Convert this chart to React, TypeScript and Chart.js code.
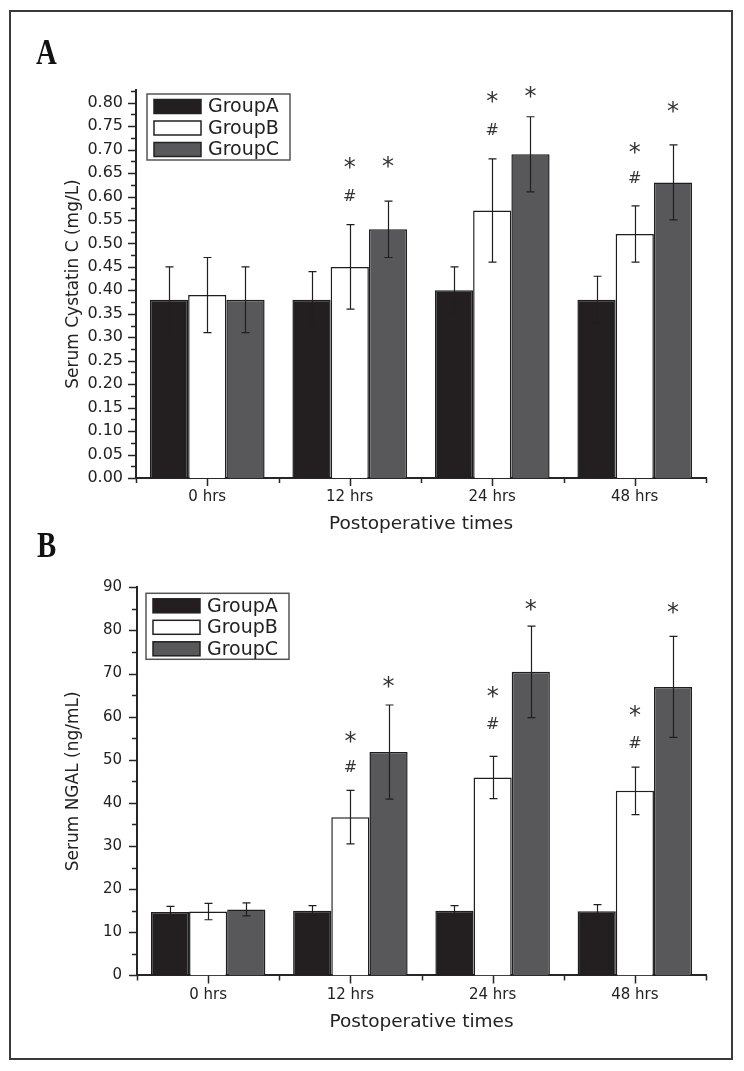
import React, { useEffect, useRef } from "react";
import { Chart, registerables } from "chart.js";

Chart.register(...registerables);

const FONT = "'DejaVu Sans', 'Liberation Sans', Arial, sans-serif";

const CATEGORIES = ["0 hrs", "12 hrs", "24 hrs", "48 hrs"];
const SERIES = ["GroupA", "GroupB", "GroupC"];
const FILLS = ["#231f20", "#ffffff", "#58585a"];
const X_TITLE = "Postoperative times";

// Panel A: Serum Cystatin C (mg/L)
const A_GROUP_A = [0.38, 0.38, 0.4, 0.38];
const A_GROUP_B = [0.39, 0.45, 0.57, 0.52];
const A_GROUP_C = [0.38, 0.53, 0.69, 0.63];
const A_ERR_A = [0.07, 0.06, 0.05, 0.05];
const A_ERR_B = [0.08, 0.09, 0.11, 0.06];
const A_ERR_C = [0.07, 0.06, 0.08, 0.08];
const A_STAR_B = [null, 0.672, 0.813, 0.703];
const A_HASH_B = [null, 0.603, 0.744, 0.642];
const A_STAR_C = [null, 0.673, 0.823, 0.791];
const A_TICKS = [0, 0.05, 0.1, 0.15, 0.2, 0.25, 0.3, 0.35, 0.4, 0.45, 0.5, 0.55, 0.6, 0.65, 0.7, 0.75, 0.8];
const A_MAX = 0.827;
const A_Y_TITLE = "Serum Cystatin C (mg/L)";

// Panel B: Serum NGAL (ng/mL)
const B_GROUP_A = [14.7, 15.0, 15.0, 14.9];
const B_GROUP_B = [14.8, 36.7, 45.9, 42.8];
const B_GROUP_C = [15.3, 51.8, 70.4, 66.9];
const B_ERR_A = [1.3, 1.2, 1.2, 1.5];
const B_ERR_B = [1.9, 6.2, 4.9, 5.5];
const B_ERR_C = [1.5, 10.9, 10.6, 11.7];
const B_STAR_B = [null, 55.2, 65.7, 61.3];
const B_HASH_B = [null, 48.6, 58.5, 54.2];
const B_STAR_C = [null, 68.0, 85.9, 85.1];
const B_TICKS = [0, 10, 20, 30, 40, 50, 60, 70, 80, 90];
const B_MAX = 90;
const B_Y_TITLE = "Serum NGAL (ng/mL)";

type Mark = { ds: number; sym: string; ys: (number | null)[] };

type Panel = {
  values: number[][];
  errors: number[][];
  marks: Mark[];
  ticks: number[];
  max: number;
  decimals: number;
  yTitle: string;
  yFont: number;
  yLabelPad: number;
  width: number;
  height: number;
  padTop: number;
  yWidth: number;
  xHeight: number;
  xLabelPad: number;
  xTitlePadBottom: number;
  legendDx: number;
  legendDy: number;
};

const INK = "#262626";

function extrasPlugin(p: Panel) {
  return {
    id: "panelExtras",
    afterDatasetsDraw(chart: any) {
      const ctx = chart.ctx as CanvasRenderingContext2D;
      const ys = chart.scales.y;
      ctx.save();
      // error bars
      ctx.strokeStyle = "#211e1f";
      ctx.lineWidth = 1.2;
      chart.data.datasets.forEach((_ds: any, d: number) => {
        const meta = chart.getDatasetMeta(d);
        meta.data.forEach((bar: any, i: number) => {
          const v = p.values[d][i];
          const e = p.errors[d][i];
          const x = Math.round(bar.x) + 0.5;
          const yt = ys.getPixelForValue(v + e);
          const yb = ys.getPixelForValue(v - e);
          ctx.beginPath();
          ctx.moveTo(x, yt);
          ctx.lineTo(x, yb);
          ctx.moveTo(x - 4, yt);
          ctx.lineTo(x + 4, yt);
          ctx.moveTo(x - 4, yb);
          ctx.lineTo(x + 4, yb);
          ctx.stroke();
        });
      });
      // significance marks
      ctx.fillStyle = "#333";
      ctx.textAlign = "center";
      ctx.textBaseline = "alphabetic";
      p.marks.forEach((m) => {
        const meta = chart.getDatasetMeta(m.ds);
        ctx.font = m.sym === "*" ? `24px ${FONT}` : `16px ${FONT}`;
        const tm = ctx.measureText(m.sym);
        m.ys.forEach((yv, i) => {
          if (yv === null) return;
          const x = meta.data[i].x;
          const y = ys.getPixelForValue(yv);
          ctx.fillText(m.sym, x, y + (tm.actualBoundingBoxAscent - tm.actualBoundingBoxDescent) / 2);
        });
      });
      ctx.restore();
    },
    afterDraw(chart: any) {
      const ctx = chart.ctx as CanvasRenderingContext2D;
      const ys = chart.scales.y;
      const xs = chart.scales.x;
      const area = chart.chartArea;
      ctx.save();
      ctx.strokeStyle = INK;
      ctx.lineWidth = 1.5;
      // y ticks
      const tv: number[] = ys.ticks.map((t: any) => t.value);
      const step = tv[1] - tv[0];
      ctx.beginPath();
      tv.forEach((v) => {
        const y = Math.round(ys.getPixelForValue(v)) + 0.5;
        ctx.moveTo(area.left, y);
        ctx.lineTo(area.left - 8, y);
        const mv = v + step / 2;
        if (mv <= p.max + 1e-9) {
          const my = Math.round(ys.getPixelForValue(mv)) + 0.5;
          ctx.moveTo(area.left, my);
          ctx.lineTo(area.left - 5, my);
        }
      });
      // x ticks
      const n = CATEGORIES.length;
      for (let i = 0; i < n; i++) {
        const x = Math.round(xs.getPixelForValue(i)) + 0.5;
        ctx.moveTo(x, area.bottom);
        ctx.lineTo(x, area.bottom + 8);
      }
      for (let i = 0; i <= n; i++) {
        let x: number;
        if (i === 0) x = area.left;
        else if (i === n) x = area.right;
        else x = (xs.getPixelForValue(i - 1) + xs.getPixelForValue(i)) / 2;
        x = Math.round(x) + 0.5;
        ctx.moveTo(x, area.bottom);
        ctx.lineTo(x, area.bottom + 5);
      }
      ctx.stroke();

      // legend box
      const bx = area.left + p.legendDx;
      const by = area.top + p.legendDy;
      const bw = 143;
      const bh = 66;
      ctx.strokeStyle = "#555";
      ctx.lineWidth = 1.5;
      ctx.strokeRect(bx, by, bw, bh);
      const rows = [12.5, 34, 55.5];
      ctx.font = `19px ${FONT}`;
      ctx.textAlign = "left";
      ctx.textBaseline = "middle";
      chart.data.datasets.forEach((ds: any, d: number) => {
        const cy = by + rows[d];
        ctx.fillStyle = ds.backgroundColor;
        ctx.fillRect(bx + 7, cy - 7, 47, 14);
        ctx.strokeStyle = "#222";
        ctx.lineWidth = 1.5;
        ctx.strokeRect(bx + 7, cy - 7, 47, 14);
        ctx.fillStyle = "#222";
        ctx.fillText(ds.label, bx + 61, cy + 1);
      });
      ctx.restore();
    },
  };
}

function PanelChart({ p, top }: { p: Panel; top: number }) {
  const ref = useRef<HTMLCanvasElement | null>(null);
  useEffect(() => {
    if (!ref.current) return;
    const chart = new Chart(ref.current, {
      type: "bar",
      data: {
        labels: CATEGORIES,
        datasets: SERIES.map((s, d) => ({
          label: s,
          data: p.values[d],
          backgroundColor: FILLS[d],
          borderColor: "#1e1e1e",
          borderWidth: 1.5,
          categoryPercentage: 0.805,
          barPercentage: 1.0,
        })),
      },
      options: {
        animation: false,
        responsive: false,
        events: [],
        layout: { padding: { left: 60, right: 38, top: p.padTop, bottom: 0 } },
        plugins: { legend: { display: false }, tooltip: { enabled: false } },
        scales: {
          x: {
            grid: { display: false, drawTicks: false },
            border: { display: true, color: INK, width: 2 },
            ticks: { color: "#222", font: { family: FONT, size: 15 }, padding: p.xLabelPad, maxRotation: 0 },
            title: {
              display: true,
              text: X_TITLE,
              color: "#222",
              font: { family: FONT, size: 18.5 },
              padding: { top: 0, bottom: p.xTitlePadBottom },
            },
            afterFit: (s: any) => {
              s.height = p.xHeight;
            },
          },
          y: {
            min: 0,
            max: p.max,
            grid: { display: false, drawTicks: false },
            border: { display: true, color: INK, width: 2 },
            ticks: {
              color: "#222",
              font: { family: FONT, size: p.yFont },
              padding: p.yLabelPad,
              includeBounds: false,
              callback: (v: any) => Number(v).toFixed(p.decimals),
            },
            afterBuildTicks: (s: any) => {
              s.ticks = p.ticks.map((v) => ({ value: v }));
            },
            title: {
              display: true,
              text: p.yTitle,
              color: "#222",
              font: { family: FONT, size: 17 },
              padding: { top: 3, bottom: 0 },
            },
            afterFit: (s: any) => {
              s.width = p.yWidth;
            },
          },
        },
      },
      plugins: [extrasPlugin(p)],
    } as any);
    return () => chart.destroy();
  }, [p]);
  return (
    <canvas
      ref={ref}
      width={p.width}
      height={p.height}
      style={{ position: "absolute", left: 0, top, width: p.width, height: p.height, display: "block" }}
    />
  );
}

const PANEL_A: Panel = {
  values: [A_GROUP_A, A_GROUP_B, A_GROUP_C],
  errors: [A_ERR_A, A_ERR_B, A_ERR_C],
  marks: [
    { ds: 1, sym: "*", ys: A_STAR_B },
    { ds: 1, sym: "#", ys: A_HASH_B },
    { ds: 2, sym: "*", ys: A_STAR_C },
  ],
  ticks: A_TICKS,
  max: A_MAX,
  decimals: 2,
  yTitle: A_Y_TITLE,
  yFont: 16,
  yLabelPad: 13,
  width: 744,
  height: 540,
  padTop: 90,
  yWidth: 76,
  xHeight: 62,
  xLabelPad: 10.3,
  xTitlePadBottom: 4.9,
  legendDx: 11,
  legendDy: 4,
};

const PANEL_B: Panel = {
  values: [B_GROUP_A, B_GROUP_B, B_GROUP_C],
  errors: [B_ERR_A, B_ERR_B, B_ERR_C],
  marks: [
    { ds: 1, sym: "*", ys: B_STAR_B },
    { ds: 1, sym: "#", ys: B_HASH_B },
    { ds: 2, sym: "*", ys: B_STAR_C },
  ],
  ticks: B_TICKS,
  max: B_MAX,
  decimals: 0,
  yTitle: B_Y_TITLE,
  yFont: 15,
  yLabelPad: 15,
  width: 744,
  height: 531,
  padTop: 47.3,
  yWidth: 77,
  xHeight: 95.6,
  xLabelPad: 10.6,
  xTitlePadBottom: 38.2,
  legendDx: 9,
  legendDy: 6,
};

const letterStyle: React.CSSProperties = {
  position: "absolute",
  fontFamily: "'Liberation Serif', 'DejaVu Serif', serif",
  fontWeight: "bold",
  fontSize: 36,
  lineHeight: "36px",
  color: "#111",
  transform: "scaleX(0.8)",
  transformOrigin: "left top",
};

export default function App() {
  return (
    <div style={{ position: "absolute", left: 0, top: 0, width: 744, height: 1071, background: "#fff", overflow: "hidden" }}>
      <PanelChart p={PANEL_A} top={0} />
      <PanelChart p={PANEL_B} top={540} />
      <div style={{ ...letterStyle, left: 36, top: 34 }}>A</div>
      <div style={{ ...letterStyle, left: 37, top: 527 }}>B</div>
      <div
        style={{
          position: "absolute",
          left: 9,
          top: 10,
          width: 724,
          height: 1050,
          border: "2px solid #3a3a3a",
          boxSizing: "border-box",
          pointerEvents: "none",
        }}
      />
    </div>
  );
}
